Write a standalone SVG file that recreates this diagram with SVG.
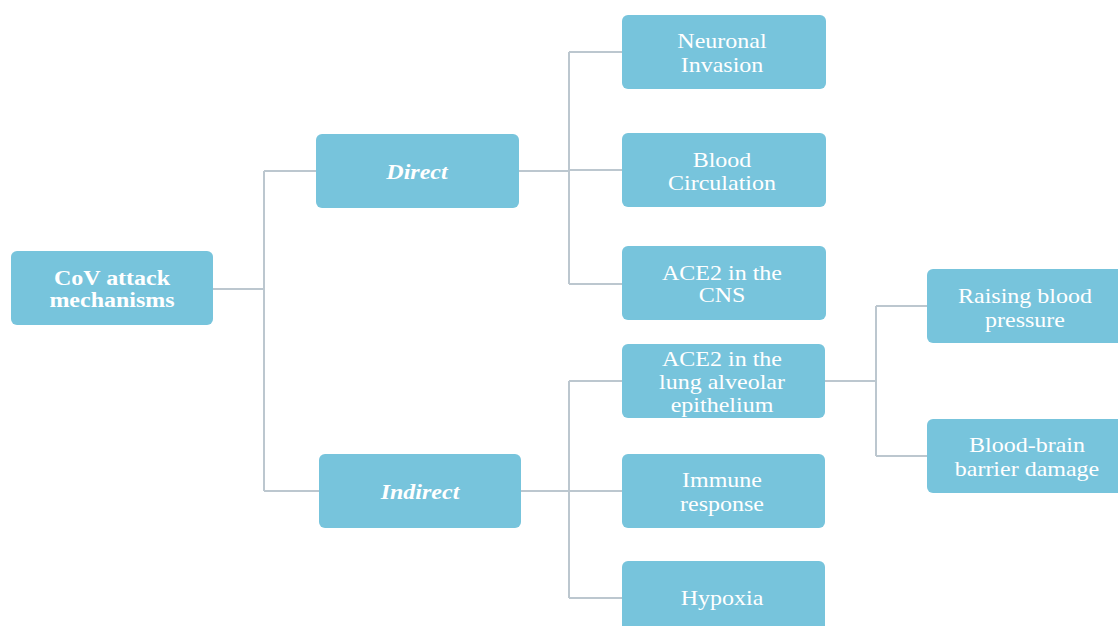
<svg xmlns="http://www.w3.org/2000/svg" width="1118" height="626" viewBox="0 0 1118 626">
<style>
.box{fill:#77c4dc;}
.t{font-family:"Liberation Serif","Times New Roman",serif;font-size:20px;fill:#ffffff;text-anchor:middle;}
.b{font-weight:bold;}
.bi{font-weight:bold;font-style:italic;}
.c{fill:none;stroke:#bcc7cf;stroke-width:2;}
</style>
<rect width="1118" height="626" fill="#ffffff"/>
<g id="connectors">
<path class="c" d="M213 289H264M264 171V491M264 171H316M264 491H319"/>
<path class="c" d="M519 171H569M569 52V284M569 52H622M569 170H622M569 284H622"/>
<path class="c" d="M521 491H569M569 381V598M569 381H622M569 491H622M569 598H622"/>
<path class="c" d="M825 381H876M876 306V456M876 306H927M876 456H927"/>
</g>
<g id="root">
<rect class="box" x="11" y="251" width="202" height="74" rx="6"/>
<text class="t b" transform="translate(112,285) scale(1.2,1)">CoV attack</text>
<text class="t b" transform="translate(112,307) scale(1.2,1)">mechanisms</text>
</g>
<g id="direct">
<rect class="box" x="316" y="134" width="203" height="74" rx="6"/>
<text class="t bi" transform="translate(417,179) scale(1.2,1)">Direct</text>
</g>
<g id="indirect">
<rect class="box" x="319" y="454" width="202" height="74" rx="6"/>
<text class="t bi" transform="translate(420,499) scale(1.2,1)">Indirect</text>
</g>
<g id="neuronal">
<rect class="box" x="622" y="15" width="204" height="74" rx="6"/>
<text class="t" transform="translate(722,48) scale(1.2,1)">Neuronal</text>
<text class="t" transform="translate(722,72) scale(1.2,1)">Invasion</text>
</g>
<g id="blood-circulation">
<rect class="box" x="622" y="133" width="204" height="74" rx="6"/>
<text class="t" transform="translate(722,167) scale(1.2,1)">Blood</text>
<text class="t" transform="translate(722,190) scale(1.2,1)">Circulation</text>
</g>
<g id="ace2-cns">
<rect class="box" x="622" y="246" width="204" height="74" rx="6"/>
<text class="t" transform="translate(722,280) scale(1.2,1)">ACE2 in the</text>
<text class="t" transform="translate(722,302) scale(1.2,1)">CNS</text>
</g>
<g id="ace2-lung">
<rect class="box" x="622" y="344" width="203" height="74" rx="6"/>
<text class="t" transform="translate(722,366) scale(1.2,1)">ACE2 in the</text>
<text class="t" transform="translate(722,389) scale(1.2,1)">lung alveolar</text>
<text class="t" transform="translate(722,412) scale(1.2,1)">epithelium</text>
</g>
<g id="immune">
<rect class="box" x="622" y="454" width="203" height="74" rx="6"/>
<text class="t" transform="translate(722,487) scale(1.2,1)">Immune</text>
<text class="t" transform="translate(722,511) scale(1.2,1)">response</text>
</g>
<g id="hypoxia">
<rect class="box" x="622" y="561" width="203" height="74" rx="6"/>
<text class="t" transform="translate(722,605) scale(1.2,1)">Hypoxia</text>
</g>
<g id="raising-bp">
<rect class="box" x="927" y="269" width="198" height="74" rx="6"/>
<text class="t" transform="translate(1025,303) scale(1.2,1)">Raising blood</text>
<text class="t" transform="translate(1025,327) scale(1.2,1)">pressure</text>
</g>
<g id="bbb-damage">
<rect class="box" x="927" y="419" width="198" height="74" rx="6"/>
<text class="t" transform="translate(1027,452) scale(1.2,1)">Blood-brain</text>
<text class="t" transform="translate(1027,476) scale(1.2,1)">barrier damage</text>
</g>
</svg>
